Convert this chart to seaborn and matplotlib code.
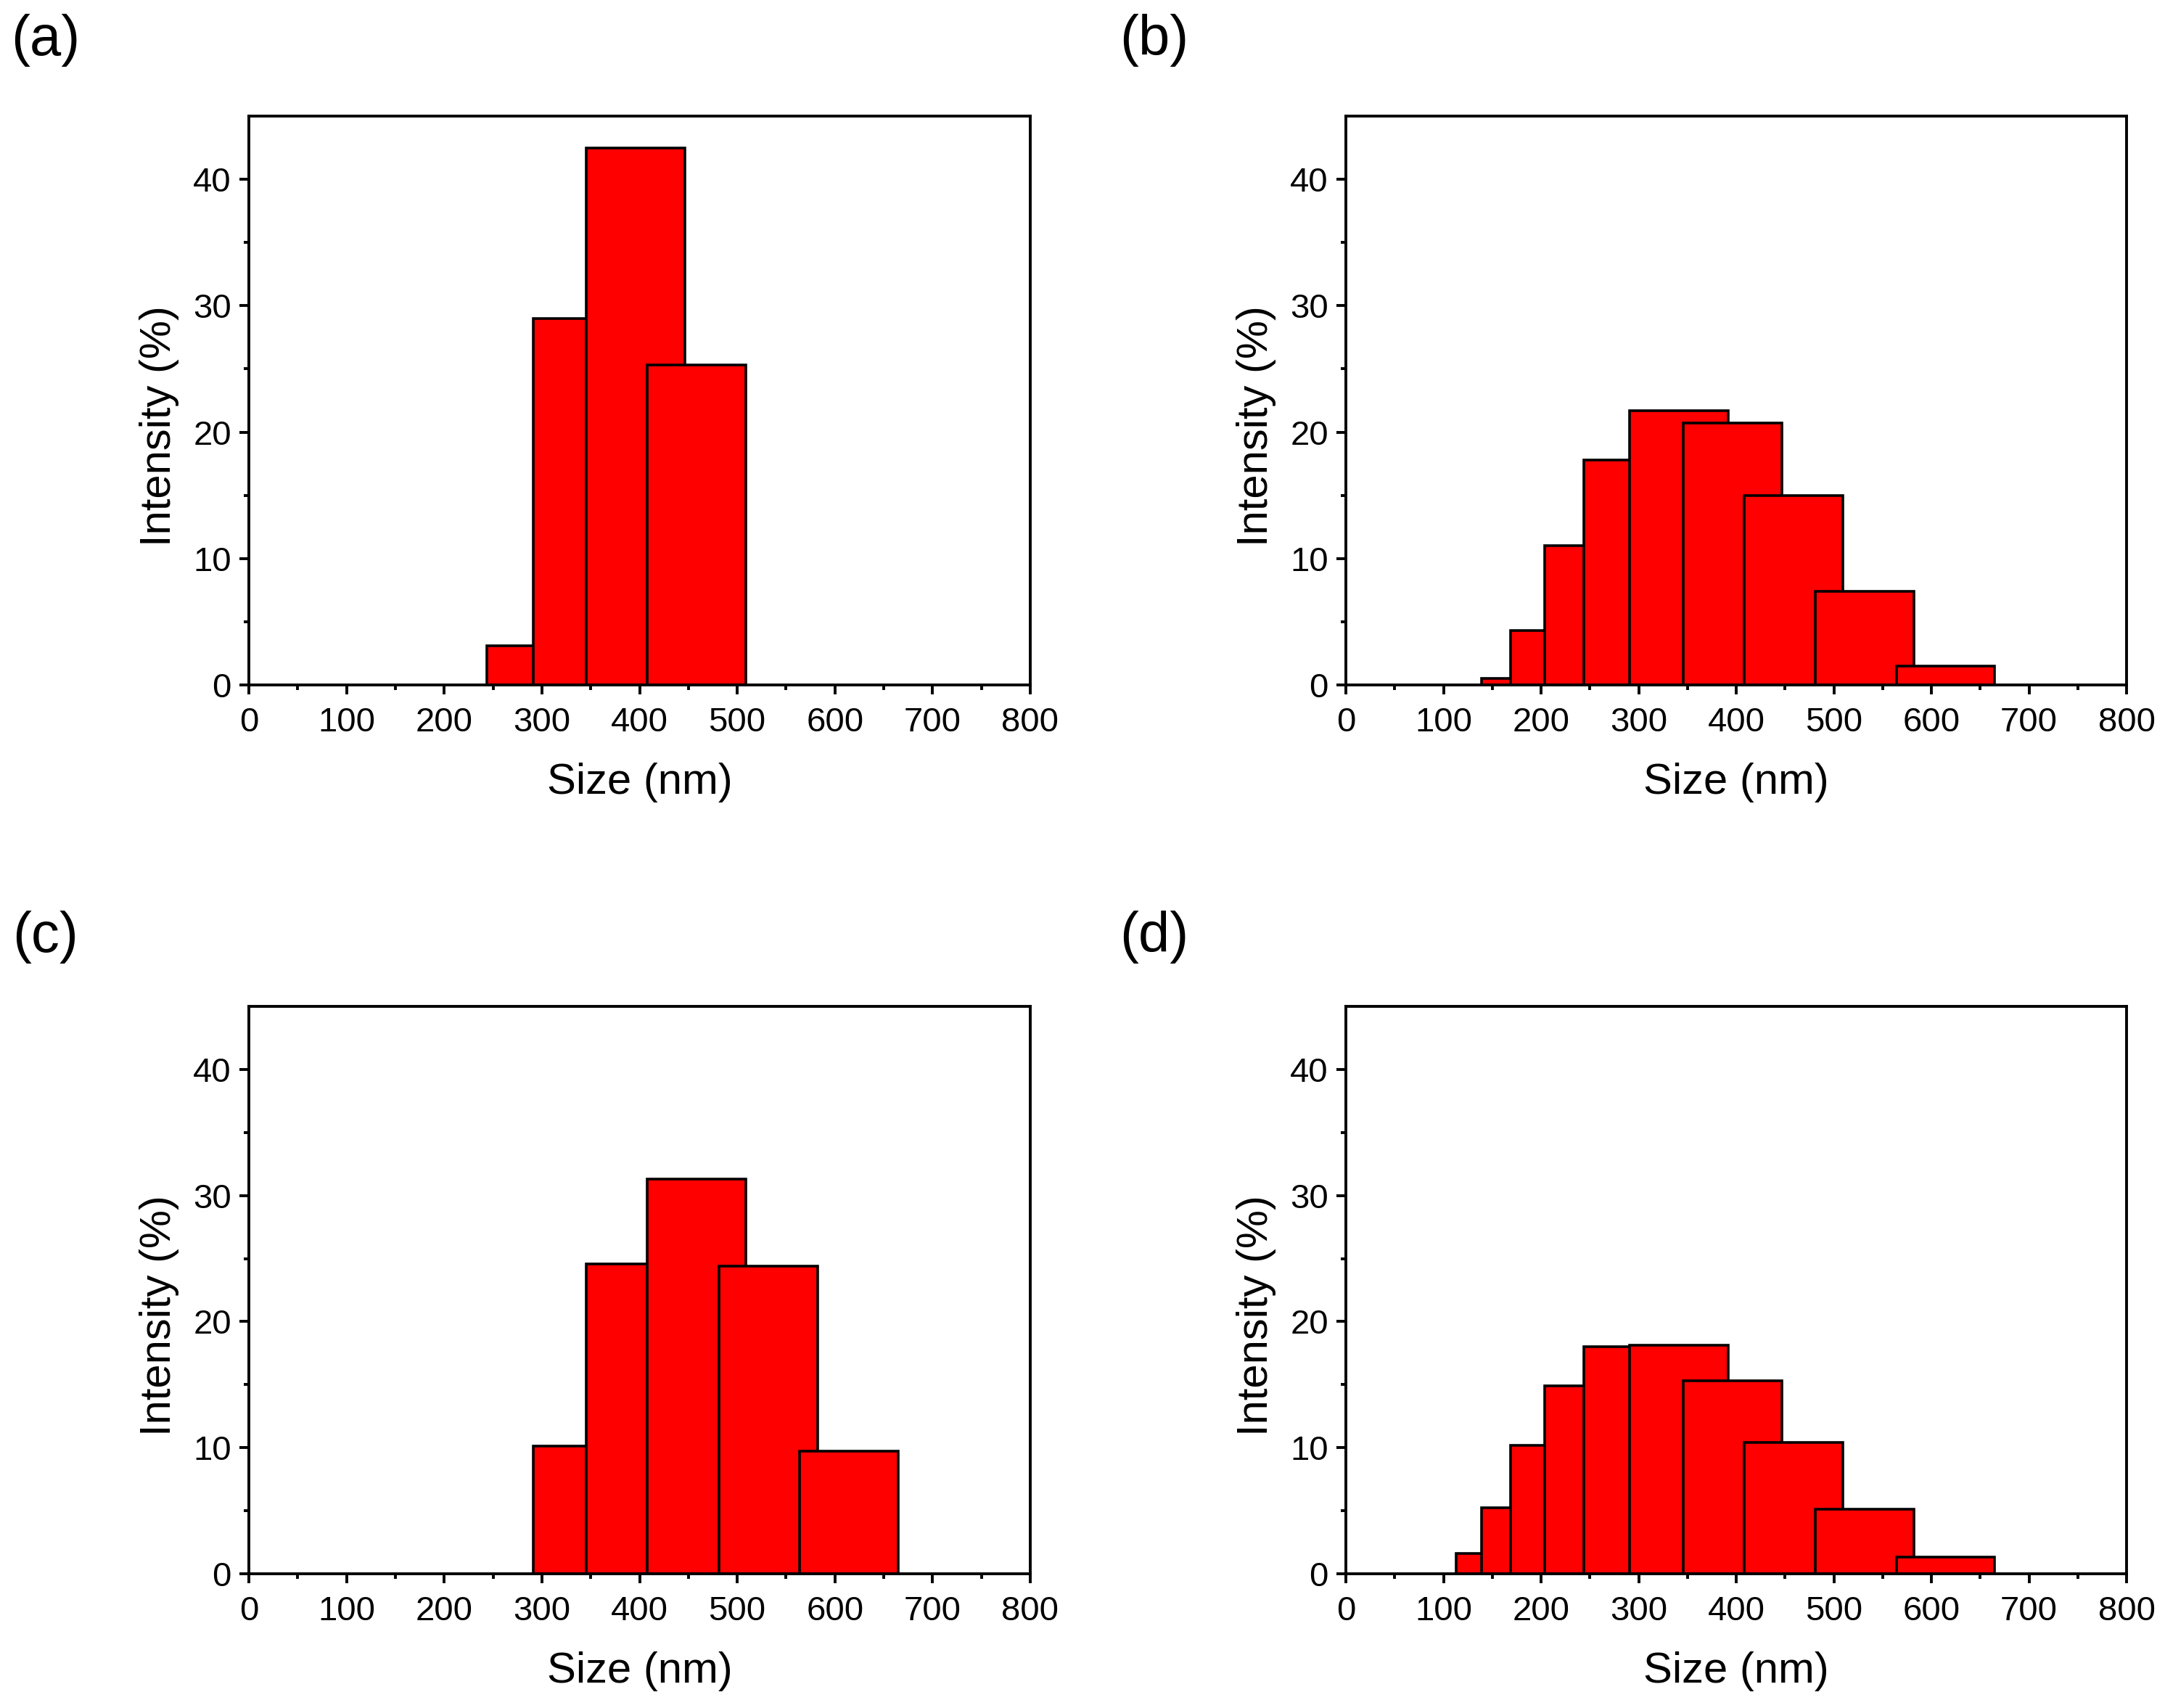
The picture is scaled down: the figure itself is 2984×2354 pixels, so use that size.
import numpy as np
import pandas as pd
import matplotlib
matplotlib.use("Agg")
import matplotlib.pyplot as plt
import seaborn as sns

# ---- data ----
# left edges of the DLS size classes (nm)
size_left = [113, 139, 169, 204, 244, 291, 345.5, 408, 481, 564]
intensity_a = [0, 0, 0, 0, 3.1, 29.0, 42.5, 25.3, 0, 0]
intensity_b = [0, 0.5, 4.3, 11.0, 17.8, 21.7, 20.7, 15.0, 7.4, 1.5]
intensity_c = [0, 0, 0, 0, 0, 10.1, 24.6, 31.3, 24.4, 9.7]
intensity_d = [1.6, 5.25, 10.2, 14.9, 18.0, 18.1, 15.3, 10.4, 5.1, 1.3]
panel_labels = ["(a)", "(b)", "(c)", "(d)"]
x_ticks = [0, 100, 200, 300, 400, 500, 600, 700, 800]
y_ticks = [0, 10, 20, 30, 40]
x_label = "Size (nm)"
y_label = "Intensity (%)"

BAR_WIDTH = 101  # nm

sns.set_theme(style="ticks")
plt.rcParams["font.family"] = ["Liberation Sans", "DejaVu Sans"]
plt.rcParams["axes.linewidth"] = 1.4
for k in ["xtick.major.width", "ytick.major.width", "xtick.minor.width", "ytick.minor.width"]:
    plt.rcParams[k] = 1.4
plt.rcParams["xtick.major.size"] = 4.7
plt.rcParams["ytick.major.size"] = 4.7
plt.rcParams["xtick.minor.size"] = 2.6
plt.rcParams["ytick.minor.size"] = 2.6
plt.rcParams["xtick.direction"] = "out"
plt.rcParams["ytick.direction"] = "out"

W, H = 2984, 2354
DPI = 200
fig = plt.figure(figsize=(W / DPI, H / DPI), dpi=DPI)
fig.patch.set_facecolor("white")

def rect(left, right, top, bottom):
    return [left / W, 1 - bottom / H, (right - left) / W, (bottom - top) / H]

axes_rects = [
    rect(343, 1420, 160, 944),
    rect(1855, 2931, 160, 944),
    rect(343, 1420, 1387, 2169),
    rect(1855, 2931, 1387, 2169),
]
label_pos = [(63, 55), (1591, 55), (63, 1292), (1591, 1292)]
datasets = [intensity_a, intensity_b, intensity_c, intensity_d]

for r, vals, lab, lp in zip(axes_rects, datasets, panel_labels, label_pos):
    ax = fig.add_axes(r)
    df = pd.DataFrame({"left": size_left, "intensity": vals})
    df = df[df["intensity"] > 0]
    for _, row in df.iterrows():
        lo = row["left"]
        sns.histplot(
            x=[lo + BAR_WIDTH / 2], weights=[row["intensity"]],
            bins=[lo, lo + BAR_WIDTH], ax=ax,
            color="#ff0000", edgecolor="black", linewidth=1.3, alpha=1.0,
        )
    ax.set_xlim(0, 800)
    ax.set_ylim(0, 45)
    ax.set_xticks(x_ticks)
    ax.set_yticks(y_ticks)
    ax.set_xticks(np.arange(50, 800, 100), minor=True)
    ax.set_yticks(np.arange(5, 45, 10), minor=True)
    ax.tick_params(axis="both", which="both", top=False, right=False,
                   colors="black", labelsize=17)
    ax.tick_params(axis="x", which="major", pad=6)
    ax.tick_params(axis="y", which="major", pad=4)
    ax.set_xlabel(x_label, fontsize=21.5, color="black", va="center")
    ax.set_ylabel(y_label, fontsize=21.5, color="black", va="center")
    ax.xaxis.set_label_coords(0.5, -0.172)
    ax.yaxis.set_label_coords(-0.115, 0.455)
    for s in ax.spines.values():
        s.set_visible(True)
        s.set_color("black")
        s.set_linewidth(1.4)
    ax.set_facecolor("white")
    ax.grid(False)
    fig.text(lp[0] / W, 1 - lp[1] / H, lab, fontsize=28, ha="center",
             va="center", color="black")

fig.savefig("out.png", dpi=DPI, facecolor="white")
